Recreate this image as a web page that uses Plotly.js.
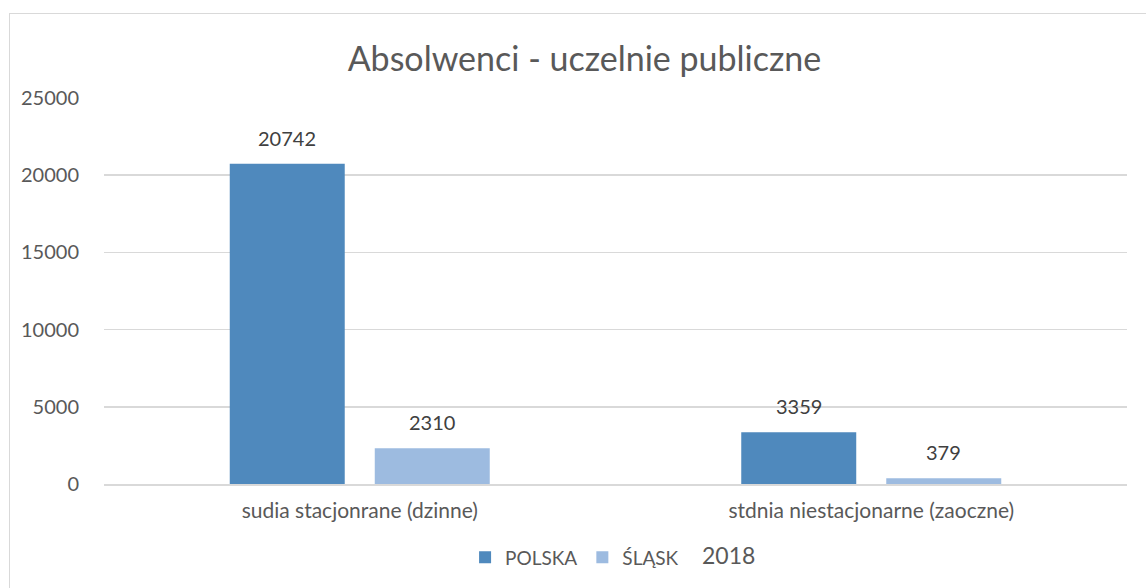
<!DOCTYPE html>
<html>
<head>
<meta charset="utf-8">
<script src="https://cdn.plot.ly/plotly-3.0.1.min.js"></script>
<style>
html,body{margin:0;padding:0;background:#fff;}
#wrap{position:relative;width:1146px;height:588px;overflow:hidden;}
#chart{width:1146px;height:588px;}
#frame{position:absolute;left:9px;top:13px;width:1200px;height:700px;border:1px solid #d9d9d9;pointer-events:none;box-sizing:border-box;}
</style>
</head>
<body>
<div id="wrap"><div id="chart"></div><div id="frame"></div></div>
<script>
const categories = ["sudia stacjonrane (dzinne)", "stdnia niestacjonarne (zaoczne)"];
const polska = [20742, 3359];
const slask = [2310, 379];
const seriesNames = ["POLSKA", "ŚLĄSK"];
const yearLabel = "2018";

const font = "Lato, 'Open Sans', sans-serif";
const grey = "#595959";
const labelColor = "#404040";

const traces = [
  {type:"bar", name:seriesNames[0], x:categories, y:polska, marker:{color:"#4f89bd"}},
  {type:"bar", name:seriesNames[1], x:categories, y:slask, marker:{color:"#9dbbe0"}}
];

// data labels above each bar (offset to the bar's slot in its group)
const slotShift = 72.5;
const labelAnns = [];
[polska, slask].forEach((vals, si) => {
  vals.forEach((v, i) => {
    labelAnns.push({x:categories[i], y:v, xref:"x", yref:"y", text:String(v), showarrow:false,
      xshift:(si === 0 ? -1 : 1) * slotShift, yshift:12, yanchor:"bottom", xanchor:"center",
      font:{family:font, size:20, color:labelColor}});
  });
});

const layout = {
  width:1146, height:588,
  margin:{l:104, r:19, t:98, b:100},
  paper_bgcolor:"#fff", plot_bgcolor:"#fff",
  font:{family:font, color:grey},
  title:{text:"Absolwenci - uczelnie publiczne", x:0.51, xanchor:"center", y:0.9, yanchor:"middle",
         font:{family:font, size:34, color:grey}},
  barmode:"group", bargap:0.433, bargroupgap:0.207,
  xaxis:{tickfont:{family:font, size:21, color:grey}, showline:true, linecolor:"#d9d9d9", linewidth:1.5,
         ticks:"", ticklabelstandoff:7, fixedrange:true},
  yaxis:{range:[0,25000], dtick:5000, tickformat:"d", showgrid:true, gridcolor:"#d9d9d9", gridwidth:1.5,
         zeroline:false, tickfont:{family:font, size:20, color:grey}, ticklabelstandoff:24, fixedrange:true},
  showlegend:true,
  legend:{orientation:"h", x:0.46, xanchor:"center", y:-0.19, yanchor:"middle",
          font:{family:font, size:19, color:grey}, itemwidth:30, traceorder:"normal"},
  annotations:labelAnns.concat([{text:yearLabel, xref:"paper", yref:"paper", x:0.61, y:-0.183,
                xanchor:"center", yanchor:"middle", showarrow:false, font:{family:font, size:23, color:grey}}])
};

Plotly.newPlot("chart", traces, layout, {displayModeBar:false, staticPlot:true});
</script>
</body>
</html>
